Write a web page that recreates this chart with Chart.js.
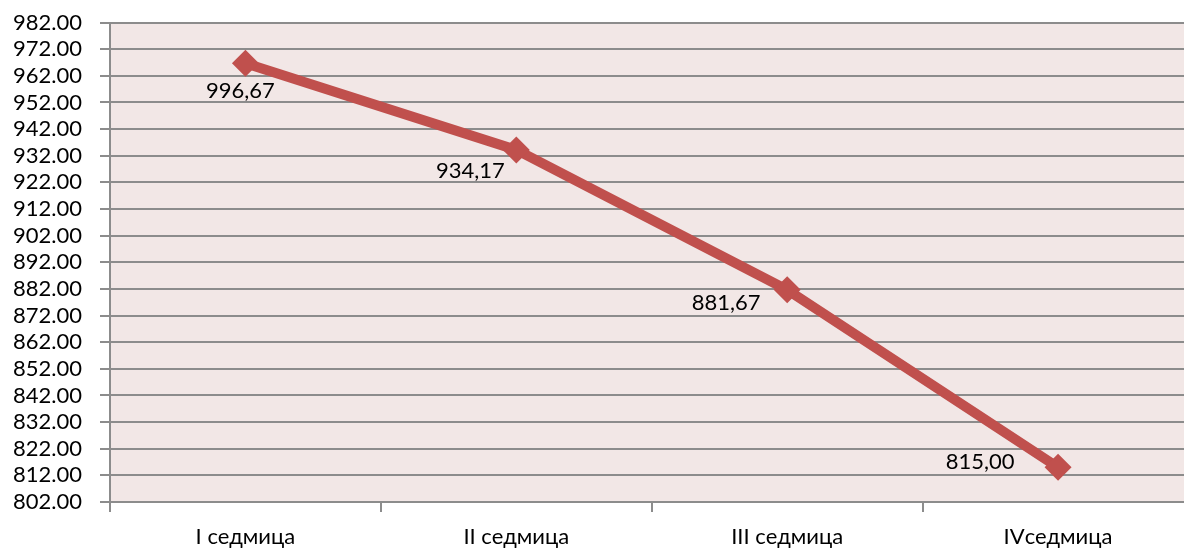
<!DOCTYPE html>
<html>
<head>
<meta charset="utf-8">
<script src="https://cdn.jsdelivr.net/npm/chart.js@4"></script>
<style>
  html, body { margin: 0; padding: 0; background: #fff; overflow: hidden; }
  #wrap { width: 1184px; height: 549px; overflow: hidden; }
</style>
</head>
<body>
<div id="wrap"><canvas id="weeksChart" width="1207" height="549"></canvas></div>
<script>
var categories = ['I седмица', 'II седмица', 'III седмица', 'IVседмица'];
var values = [966.67, 934.17, 881.67, 815.00];
var valueLabels = ['996,67', '934,17', '881,67', '815,00'];
var yMin = 802, yMax = 982, yStep = 10;

var FONT = 'Lato, "Open Sans", "DejaVu Sans", sans-serif';

// pink plot background
var plotBg = {
    id: 'plotBg',
    beforeDraw: function (chart) {
        var a = chart.chartArea, c = chart.ctx;
        c.save();
        c.fillStyle = '#F2E7E6';
        c.fillRect(a.left, a.top, a.right - a.left, a.bottom - a.top);
        c.restore();
    }
};

// value labels next to points (Excel-like placement)
var labelOffsets = [[-5, 28], [-46, 21], [-61, 13], [-78, -5]];
var pointLabels = {
    id: 'pointLabels',
    afterDatasetsDraw: function (chart) {
        var c = chart.ctx;
        var meta = chart.getDatasetMeta(0);
        c.save();
        c.font = '22px ' + FONT;
        c.fillStyle = '#000';
        c.textAlign = 'center';
        c.textBaseline = 'middle';
        meta.data.forEach(function (pt, i) {
            c.fillText(valueLabels[i], pt.x + labelOffsets[i][0], pt.y + labelOffsets[i][1]);
        });
        c.restore();
    }
};

var ctx = document.getElementById('weeksChart').getContext('2d');
var weeksChart = new Chart(ctx, {
    type: 'line',
    data: {
        labels: categories,
        datasets: [{
            data: values,
            borderColor: '#C0504D',
            backgroundColor: '#C0504D',
            borderWidth: 10,
            pointStyle: 'rectRot',
            pointRadius: 13.5,
            pointBorderWidth: 0,
            pointBackgroundColor: '#C0504D',
            tension: 0,
            clip: false
        }]
    },
    options: {
        responsive: false,
        animation: false,
        layout: { padding: { top: 22.5, right: 0, left: 0, bottom: 0 } },
        plugins: {
            legend: { display: false },
            tooltip: { enabled: false },
            title: { display: false }
        },
        scales: {
            x: {
                offset: true,
                grid: {
                    offset: true,
                    drawOnChartArea: false,
                    tickLength: 10,
                    color: '#8c8c8c',
                    lineWidth: 2
                },
                border: { color: '#8c8c8c', width: 2 },
                ticks: {
                    color: '#000',
                    padding: 12,
                    maxRotation: 0,
                    autoSkip: false,
                    font: { family: FONT, size: 22 }
                },
                afterFit: function (s) { s.height = 47; }
            },
            y: {
                min: yMin,
                max: yMax,
                ticks: {
                    stepSize: yStep,
                    autoSkip: false,
                    color: '#000',
                    padding: 18,
                    font: { family: FONT, size: 22 },
                    callback: function (v) { return Number(v).toFixed(2); }
                },
                grid: {
                    color: '#8c8c8c',
                    lineWidth: 2,
                    tickLength: 10
                },
                border: { color: '#8c8c8c', width: 2 },
                afterFit: function (s) {
                    s.width = 110;
                    s.paddingTop = 0;
                    s.paddingBottom = 0;
                }
            }
        }
    },
    plugins: [plotBg, pointLabels]
});
</script>
</body>
</html>
